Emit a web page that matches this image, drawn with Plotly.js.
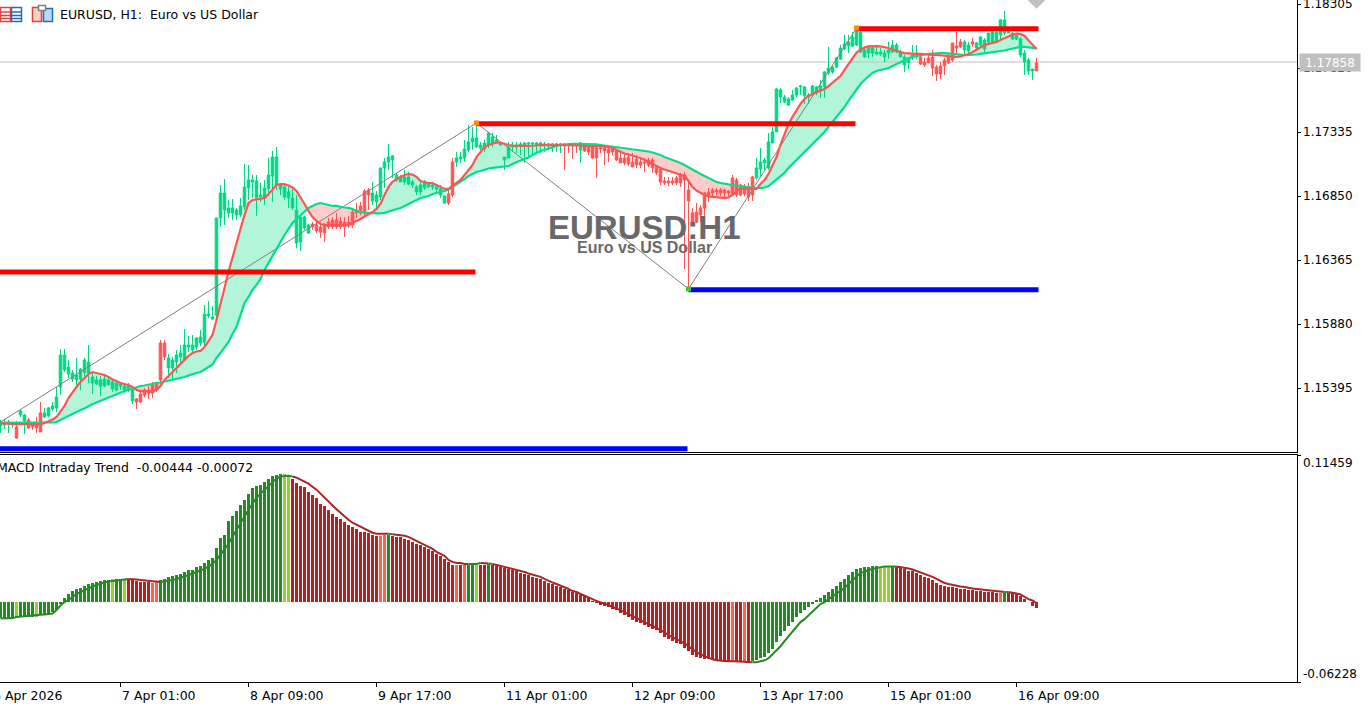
<!DOCTYPE html>
<html><head><meta charset="utf-8">
<script src="https://cdn.plot.ly/plotly-3.0.1.min.js"></script>
<style>html,body{margin:0;padding:0;background:#fff;overflow:hidden}#c{width:1372px;height:706px}</style>
</head><body><div id="c"></div>
<script>
const high=[1.15153,1.15153,1.15153,1.15137,1.15145,1.15228,1.15198,1.15168,1.15137,1.15175,
1.15289,1.15244,1.15251,1.15289,1.15403,1.15691,1.15691,1.15607,1.15532,1.15623,
1.15547,1.15623,1.15721,1.15509,1.15486,1.15486,1.15486,1.15479,1.15463,1.15441,
1.15441,1.15433,1.15433,1.15403,1.15319,1.15365,1.15395,1.15410,1.15441,1.15441,
1.15759,1.15759,1.15653,1.15630,1.15683,1.15721,1.15842,1.15789,1.15797,1.15782,
1.15835,1.16024,1.16055,1.16017,1.16684,1.16934,1.16979,1.16820,1.16828,1.16760,
1.16835,1.17093,1.17085,1.17010,1.17010,1.16949,1.16972,1.17139,1.17192,1.17222,
1.16949,1.16934,1.16919,1.16911,1.16858,1.16691,1.16699,1.16638,1.16653,1.16669,
1.16653,1.16646,1.16684,1.16691,1.16722,1.16691,1.16691,1.16699,1.16744,1.16797,
1.16805,1.16904,1.16911,1.16957,1.16888,1.17063,1.17139,1.17245,1.17161,1.17025,
1.17010,1.17048,1.17032,1.16972,1.16934,1.16957,1.16972,1.16957,1.16949,1.16941,
1.16934,1.16858,1.16896,1.17139,1.17184,1.17184,1.17275,1.17389,1.17374,1.17404,
1.17260,1.17275,1.17336,1.17328,1.17313,1.17260,1.17146,1.17260,1.17260,1.17260,
1.17260,1.17260,1.17260,1.17260,1.17260,1.17260,1.17260,1.17252,1.17252,1.17252,
1.17252,1.17252,1.17252,1.17252,1.17245,1.17260,1.17252,1.17252,1.17230,1.17237,
1.17237,1.17237,1.17230,1.17222,1.17207,1.17184,1.17176,1.17176,1.17176,1.17161,
1.17146,1.17139,1.17139,1.17139,1.17085,1.17070,1.16995,1.16995,1.16995,1.17002,
1.17025,1.17032,1.16972,1.16760,1.16797,1.16782,1.16881,1.16911,1.16911,1.16911,
1.16911,1.16904,1.16896,1.17010,1.16987,1.16941,1.16941,1.16949,1.17002,1.17139,
1.17214,1.17139,1.17328,1.17374,1.17669,1.17669,1.17616,1.17601,1.17654,1.17677,
1.17692,1.17684,1.17631,1.17692,1.17684,1.17730,1.17798,1.17980,1.17843,1.17904,
1.17995,1.18071,1.18071,1.18094,1.18124,1.18109,1.17972,1.17995,1.17980,1.17980,
1.17972,1.17957,1.18018,1.18033,1.18010,1.17957,1.17919,1.17904,1.17995,1.17995,
1.17934,1.17897,1.17934,1.17957,1.17843,1.17866,1.17897,1.17942,1.18010,1.18094,
1.18041,1.18033,1.18018,1.18048,1.18018,1.18063,1.18048,1.18086,1.18101,1.18101,
1.18192,1.18253,1.18131,1.18094,1.18086,1.18056,1.17957,1.17897,1.17813,1.17897];
const low=[1.15054,1.15084,1.15054,1.15092,1.15009,1.15175,1.15046,1.15084,1.15077,1.15054,
1.15062,1.15168,1.15175,1.15221,1.15213,1.15342,1.15516,1.15471,1.15441,1.15418,
1.15380,1.15479,1.15433,1.15350,1.15418,1.15334,1.15403,1.15418,1.15365,1.15372,
1.15380,1.15357,1.15365,1.15274,1.15236,1.15281,1.15327,1.15312,1.15319,1.15365,
1.15418,1.15607,1.15471,1.15463,1.15509,1.15569,1.15600,1.15668,1.15668,1.15683,
1.15713,1.15721,1.15926,1.15911,1.15903,1.16616,1.16631,1.16684,1.16669,1.16669,
1.16691,1.16744,1.16820,1.16835,1.16699,1.16805,1.16782,1.16850,1.16805,1.16896,
1.16858,1.16820,1.16760,1.16744,1.16456,1.16433,1.16593,1.16562,1.16593,1.16570,
1.16532,1.16502,1.16600,1.16600,1.16600,1.16600,1.16540,1.16608,1.16608,1.16684,
1.16706,1.16706,1.16744,1.16782,1.16744,1.16820,1.16911,1.17048,1.16987,1.16957,
1.16957,1.16934,1.16934,1.16911,1.16858,1.16858,1.16896,1.16911,1.16896,1.16881,
1.16835,1.16790,1.16782,1.16843,1.17070,1.17101,1.17108,1.17184,1.17199,1.17214,
1.17199,1.17184,1.17214,1.17222,1.17252,1.17230,1.17048,1.17139,1.17184,1.17176,
1.17161,1.17101,1.17146,1.17161,1.17176,1.17176,1.17184,1.17199,1.17184,1.17184,
1.17176,1.17048,1.17176,1.17131,1.17176,1.17101,1.17184,1.17161,1.17131,1.16987,
1.17176,1.17085,1.17108,1.17161,1.17116,1.17101,1.17085,1.17078,1.17070,1.17063,
1.17063,1.17032,1.17070,1.17025,1.17010,1.16934,1.16934,1.16926,1.16934,1.16934,
1.16919,1.16297,1.16146,1.16646,1.16646,1.16653,1.16691,1.16805,1.16850,1.16858,
1.16850,1.16843,1.16843,1.16850,1.16843,1.16850,1.16850,1.16813,1.16813,1.16972,
1.16995,1.17048,1.17048,1.17252,1.17336,1.17555,1.17555,1.17533,1.17571,1.17601,
1.17616,1.17548,1.17548,1.17609,1.17616,1.17594,1.17594,1.17768,1.17775,1.17821,
1.17881,1.17957,1.17934,1.17980,1.17987,1.17934,1.17897,1.17897,1.17904,1.17919,
1.17912,1.17866,1.17889,1.17934,1.17934,1.17904,1.17790,1.17813,1.17881,1.17889,
1.17843,1.17828,1.17859,1.17760,1.17722,1.17737,1.17768,1.17851,1.17866,1.17934,
1.17972,1.17919,1.17934,1.17980,1.17965,1.17980,1.17934,1.18010,1.18018,1.18018,
1.18033,1.18071,1.18086,1.18033,1.18033,1.17904,1.17768,1.17768,1.17730,1.17798];
const open=[1.15107,1.15115,1.15122,1.15115,1.15100,1.15190,1.15145,1.15153,1.15130,1.15130,
1.15206,1.15175,1.15183,1.15236,1.15244,1.15403,1.15532,1.15501,1.15463,1.15456,
1.15463,1.15509,1.15509,1.15433,1.15425,1.15410,1.15410,1.15418,1.15388,1.15380,
1.15410,1.15380,1.15380,1.15297,1.15312,1.15350,1.15380,1.15380,1.15418,1.15433,
1.15736,1.15736,1.15547,1.15547,1.15592,1.15630,1.15607,1.15706,1.15683,1.15706,
1.15736,1.15744,1.15941,1.15918,1.15948,1.16684,1.16744,1.16722,1.16722,1.16706,
1.16706,1.16767,1.16911,1.16957,1.16835,1.16843,1.16835,1.16904,1.17002,1.16934,
1.16904,1.16843,1.16835,1.16760,1.16494,1.16502,1.16608,1.16570,1.16638,1.16631,
1.16616,1.16631,1.16653,1.16669,1.16669,1.16661,1.16653,1.16653,1.16729,1.16744,
1.16775,1.16888,1.16896,1.16813,1.16805,1.16843,1.17063,1.17108,1.17123,1.16972,
1.16957,1.16957,1.16941,1.16934,1.16881,1.16881,1.16911,1.16919,1.16919,1.16904,
1.16858,1.16797,1.16866,1.17108,1.17108,1.17131,1.17139,1.17199,1.17260,1.17222,
1.17214,1.17207,1.17237,1.17252,1.17252,1.17237,1.17123,1.17139,1.17222,1.17222,
1.17230,1.17237,1.17245,1.17245,1.17237,1.17245,1.17237,1.17237,1.17237,1.17237,
1.17237,1.17245,1.17245,1.17245,1.17237,1.17199,1.17237,1.17230,1.17222,1.17214,
1.17214,1.17214,1.17207,1.17214,1.17192,1.17139,1.17139,1.17146,1.17108,1.17131,
1.17108,1.17108,1.17123,1.17123,1.17070,1.17055,1.16964,1.16964,1.16964,1.16987,
1.17010,1.17010,1.16896,1.16722,1.16729,1.16760,1.16873,1.16881,1.16896,1.16896,
1.16896,1.16896,1.16888,1.16987,1.16972,1.16934,1.16919,1.16911,1.16995,1.16987,
1.17055,1.17101,1.17063,1.17252,1.17336,1.17601,1.17563,1.17540,1.17578,1.17616,
1.17677,1.17609,1.17601,1.17631,1.17631,1.17654,1.17677,1.17783,1.17791,1.17828,
1.17889,1.17965,1.17987,1.17987,1.17995,1.17942,1.17904,1.17934,1.17934,1.17927,
1.17927,1.17904,1.17934,1.17942,1.17942,1.17904,1.17843,1.17859,1.17897,1.17904,
1.17904,1.17866,1.17897,1.17904,1.17828,1.17836,1.17881,1.17904,1.18010,1.17987,
1.18018,1.17957,1.17949,1.18018,1.17972,1.17995,1.17965,1.18018,1.18018,1.18018,
1.18071,1.18086,1.18086,1.18041,1.18041,1.17919,1.17866,1.17798,1.17798,1.17859];
const close=[1.15137,1.15130,1.15137,1.15130,1.15016,1.15221,1.15190,1.15092,1.15100,1.15092,
1.15062,1.15206,1.15244,1.15259,1.15327,1.15645,1.15645,1.15554,1.15509,1.15494,
1.15539,1.15607,1.15592,1.15479,1.15456,1.15456,1.15463,1.15456,1.15441,1.15433,
1.15425,1.15410,1.15410,1.15388,1.15289,1.15289,1.15342,1.15357,1.15357,1.15380,
1.15456,1.15630,1.15623,1.15607,1.15645,1.15660,1.15721,1.15721,1.15721,1.15774,
1.15782,1.15956,1.15956,1.15933,1.16684,1.16873,1.16873,1.16760,1.16760,1.16744,
1.16775,1.16919,1.16972,1.16972,1.16964,1.16858,1.16911,1.17010,1.17146,1.17146,
1.16934,1.16919,1.16881,1.16835,1.16744,1.16691,1.16691,1.16631,1.16616,1.16585,
1.16578,1.16570,1.16616,1.16616,1.16616,1.16616,1.16616,1.16623,1.16631,1.16722,
1.16722,1.16722,1.16858,1.16873,1.16858,1.17063,1.17108,1.17146,1.17154,1.17010,
1.16995,1.16995,1.16995,1.16957,1.16919,1.16934,1.16949,1.16949,1.16934,1.16919,
1.16904,1.16850,1.16797,1.16858,1.17139,1.17146,1.17207,1.17260,1.17290,1.17290,
1.17237,1.17252,1.17328,1.17298,1.17275,1.17252,1.17146,1.17222,1.17237,1.17237,
1.17245,1.17252,1.17252,1.17252,1.17252,1.17252,1.17245,1.17245,1.17245,1.17245,
1.17245,1.17237,1.17237,1.17230,1.17233,1.17252,1.17192,1.17184,1.17139,1.17139,
1.17207,1.17192,1.17176,1.17184,1.17123,1.17101,1.17101,1.17093,1.17070,1.17085,
1.17085,1.17101,1.17085,1.17063,1.17025,1.16957,1.16949,1.16949,1.16949,1.16949,
1.16949,1.16972,1.16813,1.16653,1.16653,1.16706,1.16760,1.16858,1.16873,1.16881,
1.16873,1.16873,1.16873,1.16858,1.16858,1.16858,1.16866,1.16843,1.16858,1.17063,
1.17108,1.17123,1.17260,1.17336,1.17661,1.17654,1.17601,1.17586,1.17616,1.17669,
1.17684,1.17677,1.17616,1.17684,1.17677,1.17684,1.17791,1.17821,1.17828,1.17897,
1.17972,1.18003,1.18018,1.18056,1.18109,1.18094,1.17957,1.17972,1.17972,1.17942,
1.17942,1.17934,1.17957,1.17995,1.17995,1.17942,1.17904,1.17897,1.17919,1.17934,
1.17851,1.17843,1.17859,1.17821,1.17775,1.17775,1.17836,1.17859,1.17881,1.17972,
1.17980,1.18018,1.17995,1.18003,1.18010,1.18056,1.18033,1.18086,1.18094,1.18094,
1.18185,1.18185,1.18109,1.18086,1.18071,1.18041,1.17934,1.17881,1.17813,1.17798];
const slowMA=[1.15130,1.15130,1.15130,1.15130,1.15130,1.15130,1.15130,1.15130,1.15130,1.15130,
1.15130,1.15130,1.15130,1.15134,1.15137,1.15153,1.15168,1.15183,1.15198,1.15213,
1.15228,1.15240,1.15259,1.15274,1.15285,1.15297,1.15312,1.15323,1.15334,1.15350,
1.15361,1.15372,1.15380,1.15391,1.15403,1.15410,1.15414,1.15422,1.15425,1.15433,
1.15437,1.15444,1.15448,1.15456,1.15463,1.15471,1.15478,1.15490,1.15501,1.15509,
1.15516,1.15532,1.15554,1.15573,1.15623,1.15660,1.15706,1.15744,1.15804,1.15858,
1.15948,1.16039,1.16085,1.16138,1.16176,1.16221,1.16290,1.16343,1.16403,1.16449,
1.16502,1.16555,1.16600,1.16646,1.16676,1.16706,1.16737,1.16760,1.16775,1.16790,
1.16797,1.16790,1.16782,1.16775,1.16775,1.16767,1.16763,1.16760,1.16752,1.16737,
1.16729,1.16722,1.16722,1.16718,1.16718,1.16718,1.16722,1.16733,1.16741,1.16752,
1.16760,1.16775,1.16790,1.16805,1.16820,1.16835,1.16843,1.16850,1.16866,1.16873,
1.16881,1.16888,1.16900,1.16919,1.16941,1.16957,1.16979,1.17002,1.17017,1.17032,
1.17040,1.17051,1.17059,1.17063,1.17067,1.17070,1.17070,1.17078,1.17093,1.17108,
1.17120,1.17131,1.17142,1.17161,1.17176,1.17192,1.17199,1.17211,1.17222,1.17230,
1.17237,1.17241,1.17241,1.17245,1.17245,1.17245,1.17245,1.17245,1.17245,1.17241,
1.17237,1.17233,1.17230,1.17226,1.17222,1.17218,1.17214,1.17211,1.17203,1.17199,
1.17195,1.17192,1.17188,1.17180,1.17173,1.17161,1.17146,1.17135,1.17123,1.17112,
1.17101,1.17085,1.17067,1.17051,1.17032,1.17017,1.17002,1.16987,1.16972,1.16957,
1.16949,1.16941,1.16938,1.16934,1.16930,1.16926,1.16919,1.16915,1.16911,1.16911,
1.16911,1.16915,1.16926,1.16949,1.16972,1.16995,1.17025,1.17063,1.17093,1.17123,
1.17154,1.17184,1.17214,1.17241,1.17271,1.17305,1.17336,1.17374,1.17412,1.17442,
1.17480,1.17525,1.17571,1.17616,1.17662,1.17699,1.17730,1.17760,1.17783,1.17798,
1.17806,1.17813,1.17821,1.17836,1.17851,1.17866,1.17881,1.17893,1.17904,1.17912,
1.17919,1.17923,1.17927,1.17931,1.17934,1.17934,1.17934,1.17931,1.17927,1.17923,
1.17919,1.17919,1.17919,1.17919,1.17923,1.17927,1.17931,1.17934,1.17938,1.17942,
1.17946,1.17953,1.17961,1.17969,1.17976,1.17980,1.17980,1.17976,1.17972,1.17969];
const fastMA=[1.15130,1.15126,1.15122,1.15122,1.15122,1.15122,1.15122,1.15122,1.15122,1.15122,
1.15122,1.15130,1.15141,1.15156,1.15175,1.15213,1.15259,1.15319,1.15365,1.15403,
1.15441,1.15471,1.15501,1.15516,1.15509,1.15501,1.15494,1.15479,1.15460,1.15448,
1.15433,1.15425,1.15418,1.15403,1.15380,1.15372,1.15369,1.15369,1.15372,1.15380,
1.15410,1.15456,1.15486,1.15516,1.15547,1.15577,1.15607,1.15638,1.15660,1.15672,
1.15676,1.15706,1.15751,1.15797,1.15911,1.16024,1.16153,1.16274,1.16388,1.16494,
1.16600,1.16706,1.16797,1.16820,1.16824,1.16828,1.16835,1.16866,1.16904,1.16934,
1.16941,1.16941,1.16930,1.16915,1.16888,1.16843,1.16790,1.16737,1.16691,1.16661,
1.16638,1.16631,1.16627,1.16627,1.16627,1.16627,1.16631,1.16634,1.16646,1.16661,
1.16676,1.16695,1.16710,1.16729,1.16752,1.16790,1.16858,1.16919,1.16957,1.16979,
1.16995,1.17010,1.17017,1.17013,1.16995,1.16964,1.16957,1.16949,1.16949,1.16934,
1.16919,1.16904,1.16904,1.16926,1.16949,1.16972,1.17010,1.17048,1.17085,1.17146,
1.17184,1.17222,1.17237,1.17248,1.17256,1.17256,1.17245,1.17237,1.17233,1.17230,
1.17230,1.17230,1.17230,1.17233,1.17233,1.17237,1.17237,1.17237,1.17237,1.17237,
1.17237,1.17237,1.17237,1.17233,1.17233,1.17233,1.17230,1.17230,1.17230,1.17230,
1.17226,1.17226,1.17222,1.17214,1.17199,1.17184,1.17173,1.17165,1.17154,1.17146,
1.17139,1.17123,1.17108,1.17089,1.17078,1.17063,1.17051,1.17040,1.17029,1.17021,
1.17013,1.17002,1.16964,1.16919,1.16892,1.16873,1.16858,1.16847,1.16843,1.16839,
1.16835,1.16835,1.16839,1.16858,1.16888,1.16904,1.16907,1.16907,1.16904,1.16904,
1.16941,1.16972,1.17017,1.17085,1.17146,1.17237,1.17321,1.17397,1.17450,1.17502,
1.17548,1.17586,1.17609,1.17624,1.17635,1.17647,1.17662,1.17684,1.17707,1.17730,
1.17760,1.17806,1.17851,1.17897,1.17938,1.17957,1.17976,1.17984,1.17987,1.17987,
1.17984,1.17980,1.17972,1.17961,1.17949,1.17942,1.17934,1.17931,1.17927,1.17927,
1.17927,1.17923,1.17923,1.17919,1.17919,1.17915,1.17912,1.17908,1.17904,1.17904,
1.17908,1.17915,1.17927,1.17942,1.17961,1.17980,1.17995,1.18003,1.18010,1.18018,
1.18033,1.18048,1.18063,1.18075,1.18082,1.18078,1.18063,1.18033,1.17995,1.17965];
const macdHist=[-.0125,-.0125,-.0125,-.0121,-.0117,-.0117,-.0117,-.0117,-.0113,-.0113,
-.0102,-.0094,-.0086,-.0078,-.0063,-.0016,.0031,.0063,.0086,.0102,
.0113,.0129,.0141,.0152,.0156,.0164,.0172,.0172,.0176,.0180,
.0180,.0180,.0176,.0172,.0168,.0160,.0156,.0156,.0152,.0156,
.0172,.0180,.0196,.0203,.0211,.0219,.0235,.0250,.0250,.0274,
.0282,.0305,.0328,.0344,.0422,.0500,.0524,.0633,.0673,.0712,
.0759,.0798,.0845,.0891,.0907,.0915,.0938,.0962,.0985,.0993,
.1001,.1001,.0978,.0962,.0931,.0907,.0899,.0860,.0837,.0813,
.0766,.0751,.0719,.0688,.0665,.0649,.0626,.0602,.0587,.0571,
.0547,.0547,.0540,.0524,.0516,.0516,.0524,.0524,.0516,.0508,
.0504,.0493,.0485,.0469,.0454,.0446,.0430,.0414,.0399,.0375,
.0360,.0336,.0313,.0289,.0289,.0289,.0289,.0289,.0289,.0289,
.0289,.0289,.0297,.0289,.0282,.0274,.0266,.0258,.0250,.0242,
.0227,.0219,.0211,.0196,.0188,.0180,.0164,.0149,.0141,.0125,
.0117,.0102,.0094,.0078,.0070,.0055,.0047,.0031,.0008,-.0008,
-.0023,-.0031,-.0039,-.0055,-.0063,-.0086,-.0102,-.0117,-.0141,-.0156,
-.0164,-.0180,-.0196,-.0211,-.0219,-.0242,-.0274,-.0289,-.0305,-.0321,
-.0328,-.0360,-.0383,-.0414,-.0430,-.0438,-.0446,-.0446,-.0454,-.0454,
-.0461,-.0469,-.0469,-.0469,-.0469,-.0469,-.0469,-.0469,-.0461,-.0454,
-.0438,-.0430,-.0399,-.0368,-.0313,-.0266,-.0227,-.0188,-.0156,-.0117,
-.0086,-.0063,-.0039,-.0016,.0016,.0031,.0055,.0078,.0102,.0125,
.0156,.0180,.0211,.0235,.0258,.0266,.0274,.0274,.0282,.0282,
.0274,.0274,.0274,.0274,.0274,.0266,.0258,.0242,.0242,.0227,
.0211,.0196,.0188,.0172,.0149,.0133,.0125,.0117,.0117,.0109,
.0102,.0102,.0094,.0094,.0086,.0086,.0078,.0078,.0078,.0070,
.0070,.0070,.0070,.0070,.0063,.0047,.0023,.0002,-.0031,-.00444];
const macdSignal=[-.0129,-.0129,-.0125,-.0125,-.0117,-.0113,-.0113,-.0109,-.0106,-.0102,
-.0098,-.0096,-.0094,-.0090,-.0063,-.0027,0,.0016,.0039,.0063,
.0078,.0094,.0109,.0121,.0133,.0145,.0152,.0160,.0164,.0168,
.0172,.0176,.0180,.0180,.0176,.0172,.0168,.0164,.0160,.0160,
.0156,.0160,.0164,.0172,.0180,.0188,.0199,.0211,.0223,.0235,
.0246,.0258,.0278,.0297,.0328,.0368,.0407,.0454,.0508,.0563,
.0618,.0665,.0719,.0766,.0813,.0845,.0876,.0907,.0938,.0962,
.0978,.0981,.0985,.0978,.0970,.0954,.0938,.0923,.0899,.0876,
.0845,.0813,.0782,.0751,.0723,.0696,.0665,.0641,.0618,.0602,
.0587,.0571,.0555,.0540,.0532,.0532,.0532,.0532,.0528,.0524,
.0524,.0516,.0508,.0493,.0477,.0461,.0446,.0430,.0414,.0391,
.0375,.0360,.0328,.0313,.0305,.0305,.0297,.0297,.0297,.0297,
.0305,.0301,.0301,.0297,.0289,.0282,.0278,.0270,.0262,.0250,
.0242,.0235,.0223,.0215,.0203,.0196,.0180,.0164,.0152,.0141,
.0129,.0117,.0102,.0086,.0078,.0063,.0051,.0039,.0023,.0008,
0,-.0012,-.0023,-.0039,-.0051,-.0063,-.0078,-.0094,-.0109,-.0125,
-.0137,-.0152,-.0172,-.0188,-.0203,-.0219,-.0235,-.0258,-.0274,-.0289,
-.0305,-.0321,-.0344,-.0368,-.0391,-.0407,-.0422,-.0434,-.0446,-.0454,
-.0457,-.0461,-.0461,-.0461,-.0461,-.0461,-.0465,-.0469,-.0469,-.0469,
-.0461,-.0454,-.0438,-.0407,-.0375,-.0344,-.0305,-.0266,-.0227,-.0188,
-.0156,-.0133,-.0102,-.0070,-.0039,-.0016,0,.0023,.0039,.0063,
.0086,.0109,.0141,.0172,.0203,.0227,.0235,.0250,.0258,.0266,
.0274,.0278,.0278,.0278,.0278,.0274,.0266,.0262,.0254,.0242,
.0235,.0223,.0211,.0196,.0180,.0164,.0149,.0141,.0133,.0125,
.0121,.0117,.0109,.0106,.0102,.0098,.0094,.0090,.0086,.0082,
.0081,.0078,.0078,.0074,.0066,.0059,.0039,.0023,.0012,-.00072];
const histClassRuns=[["G",4],["L",1],["G",4],["L",1],["G",18],["L",1],["G",2],["L",1],["R",6],["S",2],["G",31],["L",2],["R",22],["S",2],["G",1],["R",16],["S",1],["R",1],["S",1],["G",2],["L",1],["R",2],["G",1],["R",60],["S",1],["R",2],["S",1],["R",1],["G",32],["L",3],["G",1],["R",26],["S",1],["G",1],["R",8]];
const priceTicks=[1.18305,1.1782,1.17335,1.1685,1.16365,1.1588,1.15395];
const priceTickText=["1.18305","1.17820","1.17335","1.16850","1.16365","1.15880","1.15395"];
const macdTicks=[0.11459,-0.06228];
const macdTickText=["0.11459","-0.06228"];
const timeTickBars=[30,62,94,126,158,190,222,254];
const timeTickText=["7 Apr 01:00","8 Apr 09:00","9 Apr 17:00","11 Apr 01:00","12 Apr 09:00","13 Apr 17:00","15 Apr 01:00","16 Apr 09:00"];
const zigzagBars=[0,119,172,214];
const zigzagPrices=[1.15137,1.17404,1.16146,1.18124];
const resistanceBars=[[-0.125,118.75],[119,213.75],[214,259.5]];
const resistancePrices=[1.16275,1.17398,1.18118];
const supportBars=[[-0.125,171.75],[172,259.5]];
const supportPrices=[1.14935,1.1614];
const lastPrice=1.17858;
const lastPriceLine=1.17866;

const W=1372,H=706,PW=1297;
const GREEN="#00D883",RED="#FF5454",FILLG="#B2F5D8",FILLR="#FFCCCC";
const classColor={G:"#228B22",L:"#9ACD32",R:"#B22222",S:"#FF6347"};
const n=close.length, bars=close.map((_,i)=>i);
const priceRange=[1.1491,1.18336], macdRange=[-0.06228,0.11459];
const classes=[]; histClassRuns.forEach(([c,k])=>{for(let j=0;j<k;j++)classes.push(c)});

const traces=[];
function pushFill(xs,top,bot,color){
  traces.push({type:"scatter",xaxis:"x",yaxis:"y",mode:"none",fill:"toself",fillcolor:color,hoverinfo:"skip",
    x:xs.concat(xs.slice().reverse()),y:top.concat(bot.slice().reverse())});
}
let xs=[0],t=[fastMA[0]],b=[slowMA[0]],up=fastMA[0]>=slowMA[0];
for(let i=1;i<n;i++){
  const u=fastMA[i]>=slowMA[i];
  if(u!==up){
    const d0=fastMA[i-1]-slowMA[i-1],d1=fastMA[i]-slowMA[i],f=d0/(d0-d1);
    const xc=i-1+f,yc=fastMA[i-1]+f*(fastMA[i]-fastMA[i-1]);
    xs.push(xc);t.push(yc);b.push(yc);pushFill(xs,t,b,up?FILLG:FILLR);
    xs=[xc];t=[yc];b=[yc];up=u;
  }
  xs.push(i);t.push(fastMA[i]);b.push(slowMA[i]);
}
pushFill(xs,t,b,up?FILLG:FILLR);
traces.push({type:"scatter",xaxis:"x",yaxis:"y",mode:"lines",x:[-0.125,324.125],y:[lastPriceLine,lastPriceLine],line:{color:"#C0C0C0",width:1},hoverinfo:"skip"});
traces.push({type:"candlestick",xaxis:"x",yaxis:"y3",x:bars,open,high,low,close,whiskerwidth:0,
  increasing:{line:{color:GREEN,width:1},fillcolor:GREEN},decreasing:{line:{color:RED,width:1},fillcolor:RED},hoverinfo:"skip"});
traces.push({type:"scatter",xaxis:"x",yaxis:"y4",mode:"lines",x:zigzagBars,y:zigzagPrices,line:{color:"#808080",width:1},hoverinfo:"skip"});
traces.push({type:"scatter",xaxis:"x",yaxis:"y4",mode:"lines",x:bars,y:slowMA,line:{color:"#00E08A",width:2.2},hoverinfo:"skip"});
traces.push({type:"scatter",xaxis:"x",yaxis:"y4",mode:"lines",x:bars,y:fastMA,line:{color:RED,width:2.2},hoverinfo:"skip"});
resistanceBars.forEach((r,k)=>traces.push({type:"scatter",xaxis:"x",yaxis:"y4",mode:"lines",x:r,y:[resistancePrices[k],resistancePrices[k]],line:{color:"#FF0000",width:5},hoverinfo:"skip"}));
supportBars.forEach((r,k)=>traces.push({type:"scatter",xaxis:"x",yaxis:"y4",mode:"lines",x:r,y:[supportPrices[k],supportPrices[k]],line:{color:"#0000FF",width:5},hoverinfo:"skip"}));
traces.push({type:"scatter",xaxis:"x",yaxis:"y4",mode:"markers",x:zigzagBars.slice(1),y:zigzagPrices.slice(1),
  marker:{symbol:"square",size:5,color:["#FF8C00","#32CD32","#FF8C00"]},hoverinfo:"skip"});
traces.push({type:"scatter",xaxis:"x",yaxis:"y4",mode:"markers",x:[259],y:[1.18343],marker:{symbol:"diamond",size:15,color:"#C0C0C0"},hoverinfo:"skip"});
traces.push({type:"bar",xaxis:"x2",yaxis:"y2",x:bars,y:macdHist,width:0.75,marker:{color:classes.map(c=>classColor[c]),line:{width:0}},hoverinfo:"skip"});
let start=0;
for(let i=1;i<=n;i++){
  const g=c=>(c==="G"||c==="L");
  if(i===n||g(classes[i])!==g(classes[start])){
    const end=Math.min(i,n-1);
    traces.push({type:"scatter",xaxis:"x2",yaxis:"y2",mode:"lines",x:bars.slice(start,end+1),y:macdSignal.slice(start,end+1),
      line:{color:g(classes[start])?"#228B22":"#B22222",width:2},hoverinfo:"skip"});
    start=i;
  }
}

const FONT="'DejaVu Sans',sans-serif";
const tickFont={family:FONT,size:12,color:"#000"};
const textFont={family:FONT,size:12.5,color:"#000"};
const px=x=>x/W, py=y=>1-y/H;
const annotations=[];
function label(o){annotations.push(Object.assign({showarrow:false,font:tickFont},o));}
label({xref:"paper",yref:"paper",x:px(58),y:py(15),xanchor:"left",yanchor:"middle",text:"EURUSD, H1:  Euro vs US Dollar",font:textFont});
label({xref:"paper",yref:"paper",x:px(-5),y:py(467),xanchor:"left",yanchor:"middle",text:"MACD Intraday Trend  -0.00444 -0.00072",font:textFont});
label({xref:"paper",yref:"paper",x:px(644),y:py(227),xanchor:"center",yanchor:"middle",text:"EURUSD:H1",font:{family:"'Liberation Sans',Arial,sans-serif",size:33,color:"#696969",weight:700}});
label({xref:"paper",yref:"paper",x:px(644.5),y:py(247),xanchor:"center",yanchor:"middle",text:"Euro vs US Dollar",font:{family:"'Liberation Sans',Arial,sans-serif",size:16,color:"#696969",weight:700}});
priceTicks.forEach((v,k)=>label({xref:"paper",yref:"y",x:px(1301),y:v,xanchor:"left",yanchor:"middle",text:priceTickText[k]}));
label({xref:"paper",yref:"y",x:px(1299),y:lastPrice,xanchor:"left",yanchor:"middle",yshift:1,text:"1.17858",bgcolor:"#C0C0C0",width:60,height:17,borderpad:0,font:{family:FONT,size:12,color:"#fff"}});
label({xref:"paper",yref:"paper",x:px(-9),y:py(695),xanchor:"left",yanchor:"middle",text:"6 Apr 2026",font:textFont});
timeTickBars.forEach((b,k)=>label({xref:"x2",yref:"paper",x:b,y:py(695),xanchor:"left",yanchor:"middle",xshift:-1,text:timeTickText[k],font:textFont}));
macdTicks.forEach((v,k)=>label({xref:"paper",yref:"y2",x:px(1301),y:v,xanchor:"left",yanchor:"middle",yshift:k===0?-7.5:8,text:macdTickText[k]}));

const rect=(x0,y0,x1,y1,line,fill)=>({type:"rect",xref:"paper",yref:"paper",x0:px(x0),x1:px(x1),y0:py(y0),y1:py(y1),line:{color:line,width:1.5},fillcolor:fill||"rgba(0,0,0,0)"});
const seg=(x0,y0,x1,y1,c)=>({type:"line",xref:"paper",yref:"paper",x0:px(x0),x1:px(x1),y0:py(y0),y1:py(y1),line:{color:c,width:1.5}});
const shapes=[
 rect(0.5,7.5,10.5,21.5,"#E8403A","#FFFFFF"),rect(11.5,7.5,21.5,21.5,"#1F6FB5","#FFFFFF"),
 seg(1,12,10,12,"#E8403A"),seg(1,15.5,10,15.5,"#E8403A"),seg(1,18.5,10,18.5,"#E8403A"),
 seg(12,12,21,12,"#1F6FB5"),seg(12,15.5,21,15.5,"#1F6FB5"),seg(12,18.5,21,18.5,"#1F6FB5"),
 rect(32.5,7.5,41.5,21.5,"#E8403A","#FFD0C4"),rect(43.5,8.5,52.5,21.5,"#1F6FB5","#B8DCF8"),rect(38.5,5.5,45.5,10.5,"#808080","#FFFFFF")
];

const layout={width:W,height:H,autosize:false,margin:{l:0,r:0,t:0,b:0},paper_bgcolor:"#fff",plot_bgcolor:"#fff",showlegend:false,bargap:0,boxmode:"overlay",boxgap:0.1,boxgroupgap:0.3,
 xaxis:{domain:[0,PW/W],range:[-0.125,324.125],anchor:"y",showgrid:false,zeroline:false,showline:true,linecolor:"#000",linewidth:1,ticks:"",showticklabels:false,fixedrange:true,rangeslider:{visible:false}},
 xaxis2:{domain:[0,PW/W],range:[-0.125,324.125],anchor:"y2",showgrid:false,zeroline:false,showline:true,linecolor:"#000",linewidth:1,mirror:true,ticks:"outside",ticklen:4,tickcolor:"#000",tickvals:timeTickBars,showticklabels:false,fixedrange:true},
 yaxis:{domain:[1-452/H,1],range:priceRange,anchor:"x",side:"right",showgrid:false,zeroline:false,showline:true,linecolor:"#000",linewidth:1,ticks:"outside",ticklen:3,tickcolor:"#000",tickvals:priceTicks,showticklabels:false,fixedrange:true},
 yaxis2:{domain:[1-682/H,1-455/H],range:macdRange,anchor:"x2",side:"right",showgrid:false,zeroline:false,showline:true,linecolor:"#000",linewidth:1,ticks:"outside",ticklen:3,tickcolor:"#000",tickvals:macdTicks,showticklabels:false,fixedrange:true},
 yaxis3:{domain:[1-452/H,1],range:priceRange,overlaying:"y",anchor:"x",side:"right",visible:false,fixedrange:true},
 yaxis4:{domain:[1-452/H,1],range:priceRange,overlaying:"y",anchor:"x",side:"right",visible:false,fixedrange:true},
 annotations,shapes
};
Plotly.newPlot("c",traces,layout,{staticPlot:true,displayModeBar:false});
</script></body></html>
